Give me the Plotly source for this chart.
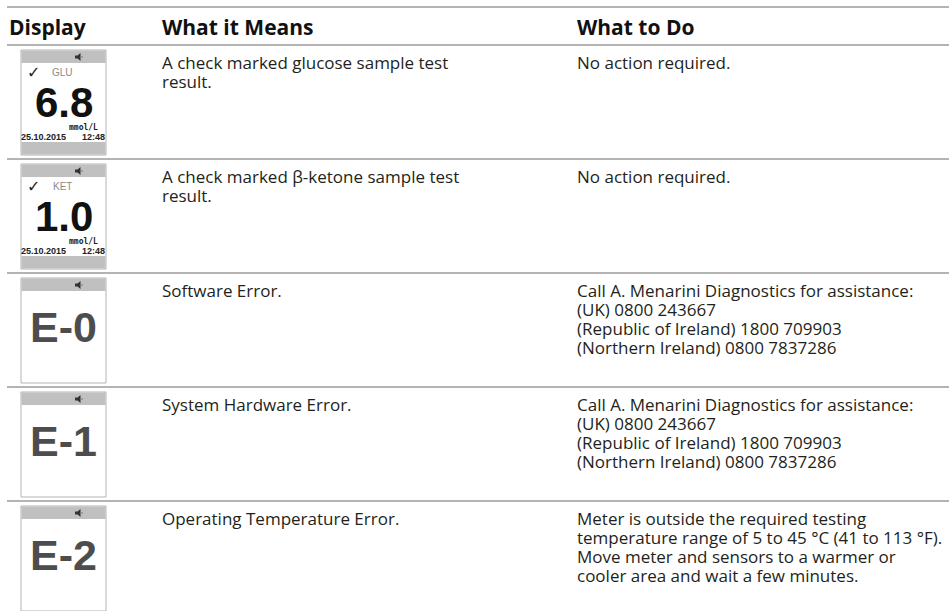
import plotly.graph_objects as go

# ---- table content ----
headers = ["Display", "What it Means", "What to Do"]
display_kind = ["reading", "reading", "error", "error", "error"]
display_label = ["GLU", "KET", "", "", ""]
display_value = ["6.8", "1.0", "E-0", "E-1", "E-2"]
display_unit = ["mmol/L", "mmol/L", "", "", ""]
display_date = ["25.10.2015", "25.10.2015", "", "", ""]
display_time = ["12:48", "12:48", "", "", ""]
meanings = [
    "A check marked glucose sample test\nresult.",
    "A check marked β-ketone sample test\nresult.",
    "Software Error.",
    "System Hardware Error.",
    "Operating Temperature Error.",
]
actions = [
    "No action required.",
    "No action required.",
    "Call A. Menarini Diagnostics for assistance:\n(UK) 0800 243667\n(Republic of Ireland) 1800 709903\n(Northern Ireland) 0800 7837286",
    "Call A. Menarini Diagnostics for assistance:\n(UK) 0800 243667\n(Republic of Ireland) 1800 709903\n(Northern Ireland) 0800 7837286",
    "Meter is outside the required testing\ntemperature range of 5 to 45 °C (41 to 113 °F).\nMove meter and sensors to a warmer or\ncooler area and wait a few minutes.",
]

# ---- layout constants (pixels) ----
W, H = 949, 611
LINE_X0 = 7
TOP_LINE = 7
HEAD_LINE = 45
ROW_H = 114
COL_X = [7, 160, 575]
TEXT_FIRST = 17
LINE_SP = 19
MX0, MX1 = 21, 106
M_OFF, M_H = 5, 105
BAR_H = 13

BODY_FONT = "Open Sans, Noto Sans, sans-serif"
DIGIT_FONT = "Liberation Sans, Arial, sans-serif"
TXT = "#231f20"
RULE = "#9b9b9b"

fig = go.Figure()
fig.add_trace(go.Scatter(x=[0, W], y=[0, H], mode="markers",
                         marker=dict(opacity=0), hoverinfo="skip", showlegend=False))

shapes = []
ann = []

def hline(y):
    shapes.append(dict(type="line", xref="x", yref="y", x0=LINE_X0, x1=W, y0=y, y1=y,
                       line=dict(color=RULE, width=1.5)))

def text(x, y, s, size, color=TXT, family=BODY_FONT, xanchor="left", bold=False):
    ann.append(dict(x=x, y=y, xref="x", yref="y", text=(f"<b>{s}</b>" if bold else s),
                    showarrow=False, xanchor=xanchor, yanchor="middle", borderpad=0,
                    font=dict(size=size, color=color, family=family)))

hline(TOP_LINE)
hline(HEAD_LINE)
for cx, h in zip(COL_X, headers):
    text(cx + 1, (TOP_LINE + HEAD_LINE) / 2 + 1, h, 21, color="#111111", bold=True)

n = len(meanings)
for i in range(n):
    rt = HEAD_LINE + i * ROW_H
    if i > 0:
        hline(rt)
    for j, ln in enumerate(meanings[i].split("\n")):
        text(COL_X[1] + 1, rt + TEXT_FIRST + j * LINE_SP, ln, 17)
    for j, ln in enumerate(actions[i].split("\n")):
        text(COL_X[2] + 1, rt + TEXT_FIRST + j * LINE_SP, ln, 17)

    # meter display drawing
    my = rt + M_OFF
    shapes.append(dict(type="rect", xref="x", yref="y", x0=MX0, x1=MX1, y0=my, y1=my + M_H,
                       line=dict(color="#b3b3b3", width=1), fillcolor="white"))
    shapes.append(dict(type="rect", xref="x", yref="y", x0=MX0 + 0.5, x1=MX1 - 0.5, y0=my + 0.5,
                       y1=my + BAR_H, line=dict(width=0), fillcolor="#c0c0c0"))
    c = my + 7
    shapes.append(dict(type="path", xref="x", yref="y",
                       path=f"M75,{c-1.5} L77.5,{c-1.5} L80.5,{c-4} L80.5,{c+4} L77.5,{c+1.5} L75,{c+1.5} Z",
                       fillcolor="#333333", line=dict(width=0)))
    shapes.append(dict(type="rect", xref="x", yref="y", x0=81.5, x1=82.5, y0=c - 0.5, y1=c + 0.5,
                       fillcolor="#333333", line=dict(width=0)))
    if display_kind[i] == "reading":
        shapes.append(dict(type="rect", xref="x", yref="y", x0=MX0 + 0.5, x1=MX1 - 0.5,
                           y0=my + M_H - BAR_H, y1=my + M_H - 0.5, line=dict(width=0),
                           fillcolor="#c0c0c0"))
        text(33, my + 22, "✓", 16, color="#222222", family="DejaVu Sans", xanchor="center")
        text(62, my + 22, display_label[i], 10, color="#8a8a8a", family=DIGIT_FONT, xanchor="center")
        text(64, my + 52, display_value[i], 42, color="#111111", family=DIGIT_FONT,
             xanchor="center", bold=True)
        text(99, my + 77, display_unit[i], 8, color="#222222", family="DejaVu Sans Mono",
             xanchor="right", bold=True)
        text(20, my + 87, display_date[i], 9, color="#222222", family=DIGIT_FONT, bold=True)
        text(106, my + 87, display_time[i], 9, color="#222222", family=DIGIT_FONT,
             xanchor="right", bold=True)
    else:
        text(63, my + 49, display_value[i], 43, color="#4d4d4d", family=DIGIT_FONT,
             xanchor="center", bold=True)

fig.update_layout(
    width=W, height=H, margin=dict(l=0, r=0, t=0, b=0),
    paper_bgcolor="white", plot_bgcolor="white",
    xaxis=dict(range=[0, W], visible=False, fixedrange=True),
    yaxis=dict(range=[H, 0], visible=False, fixedrange=True),
    shapes=shapes, annotations=ann, showlegend=False,
)
fig.write_html(
    "out.html",
    config={"displayModeBar": False},
    post_script="document.body.style.margin='0px';document.body.style.overflow='hidden';",
)
